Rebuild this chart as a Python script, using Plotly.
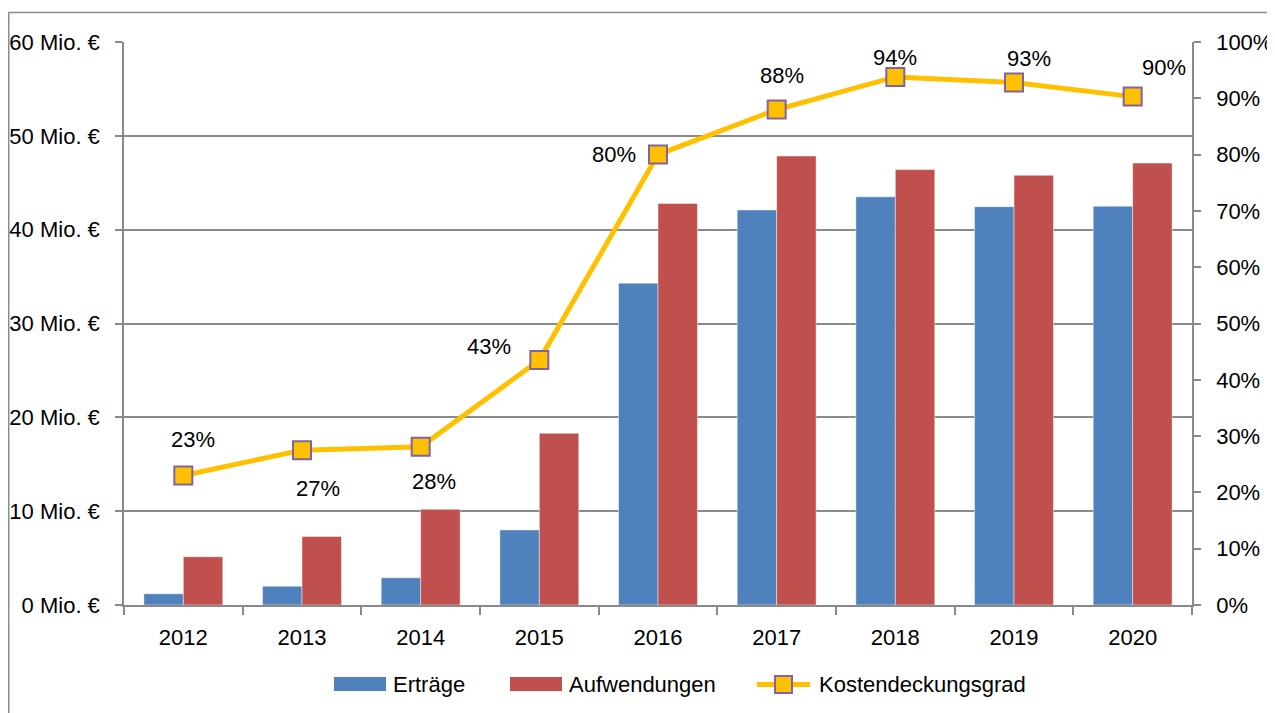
import plotly.graph_objects as go

# ---------------- data ----------------
years = ["2012", "2013", "2014", "2015", "2016", "2017", "2018", "2019", "2020"]
ertraege = [1.2, 2.0, 2.9, 8.0, 34.3, 42.1, 43.5, 42.45, 42.5]          # Mio. €
aufwendungen = [5.15, 7.3, 10.2, 18.3, 42.8, 47.85, 46.4, 45.8, 47.1]   # Mio. €
kostendeckung = [23.0, 27.5, 28.1, 43.5, 80.0, 88.0, 93.8, 92.8, 90.3]  # %
kostendeckung_labels = ["23%", "27%", "28%", "43%", "80%", "88%", "94%", "93%", "90%"]

y_tick_vals = [0, 10, 20, 30, 40, 50, 60]
y_tick_text = [f"{v} Mio. €" for v in y_tick_vals]
y2_tick_vals = [0, 10, 20, 30, 40, 50, 60, 70, 80, 90, 100]
y2_tick_text = [f"{v}%" for v in y2_tick_vals]

series_names = ["Erträge", "Aufwendungen", "Kostendeckungsgrad"]

# ---------------- style ----------------
OFF = 8                      # page body margin
W, H = 1275 - OFF, 713 - OFF
# plot area in page pixels
PL, PR, PT, PB = 124, 1192, 42, 605
L, R, T, B = PL - OFF, PR - OFF, PT - OFF, PB - OFF
BLUE = "#4F81BD"
RED = "#C0504D"
GOLD = "#FFC000"
PURPLE = "#8064A2"
GRID = "#8A8A8A"
FONT = "Liberation Sans, Arial, sans-serif"
FS = 22

def px(x):  # page pixel -> paper
    return (x - PL) / (PR - PL)

def py(y):
    return (PB - y) / (PB - PT)

# label offsets (pixels) relative to markers
label_shift = [(10, -36), (16, 38), (13, 35), (-50, -14), (-44, 0),
               (5, -34), (0, -19), (15, -24), (31, -29)]

fig = go.Figure()
fig.add_trace(go.Bar(x=years, y=ertraege, name=series_names[0],
                     marker=dict(color=BLUE, line=dict(color="rgba(255,255,255,0.45)", width=1)),
                     showlegend=False))
fig.add_trace(go.Bar(x=years, y=aufwendungen, name=series_names[1],
                     marker=dict(color=RED, line=dict(color="rgba(255,255,255,0.45)", width=1)),
                     showlegend=False))
fig.add_trace(go.Scatter(x=years, y=kostendeckung, name=series_names[2], yaxis="y2",
                         mode="lines+markers",
                         line=dict(color=GOLD, width=5),
                         marker=dict(symbol="square", size=18, color=GOLD,
                                     line=dict(color=PURPLE, width=2)),
                         showlegend=False))

annotations = []
for i, (v, lab, (dx, dy)) in enumerate(zip(kostendeckung, kostendeckung_labels, label_shift)):
    annotations.append(dict(x=i, y=v, xref="x", yref="y2", text=lab, showarrow=False,
                            xanchor="center", yanchor="middle",
                            xshift=dx, yshift=-dy, font=dict(family=FONT, size=FS, color="black")))

# custom legend + outer border
shapes = [
    dict(type="rect", xref="paper", yref="paper", x0=px(8.75), x1=px(1300), y0=py(12.5), y1=py(740),
         line=dict(color="#8C8C8C", width=1.5), fillcolor="rgba(0,0,0,0)", layer="below"),
    dict(type="rect", xref="paper", yref="paper", x0=px(334), x1=px(386), y0=py(677), y1=py(691),
         line=dict(width=0), fillcolor=BLUE),
    dict(type="rect", xref="paper", yref="paper", x0=px(510), x1=px(562), y0=py(677), y1=py(691),
         line=dict(width=0), fillcolor=RED),
    dict(type="line", xref="paper", yref="paper", x0=px(757), x1=px(810), y0=py(684.5), y1=py(684.5),
         line=dict(color=GOLD, width=5)),
    dict(type="rect", xref="paper", yref="paper", x0=px(775), x1=px(792), y0=py(676), y1=py(693),
         line=dict(color=PURPLE, width=2), fillcolor=GOLD),
]
for name, xl in zip(series_names, [391, 567, 817]):
    annotations.append(dict(x=px(xl), y=py(684.5), xref="paper", yref="paper", text=name,
                            showarrow=False, xanchor="left", yanchor="middle",
                            font=dict(family=FONT, size=FS, color="black")))

fig.update_layout(
    template="none",
    width=W, height=H,
    margin=dict(l=L, r=W - R, t=T, b=H - B, pad=0),
    paper_bgcolor="white", plot_bgcolor="white",
    barmode="group", bargap=0.335, bargroupgap=0,
    font=dict(family=FONT, size=FS, color="black"),
    xaxis=dict(type="category", range=[-0.5, 8.5], tickson="boundaries", automargin=False,
               ticks="outside", ticklen=8, tickwidth=1.5, tickcolor=GRID,
               showline=True, linecolor=GRID, linewidth=1.5, showgrid=False, zeroline=False,
               ticklabelstandoff=12, tickfont=dict(family=FONT, size=FS, color="black")),
    yaxis=dict(range=[0, 60], tickvals=y_tick_vals, ticktext=y_tick_text, automargin=False,
               ticks="outside", ticklen=7, tickwidth=1.5, tickcolor=GRID,
               showline=True, linecolor=GRID, linewidth=1.5,
               showgrid=True, gridcolor=GRID, gridwidth=1.5, zeroline=False,
               ticklabelstandoff=11, tickfont=dict(family=FONT, size=FS, color="black")),
    yaxis2=dict(range=[0, 100], tickvals=y2_tick_vals, ticktext=y2_tick_text, automargin=False,
                overlaying="y", side="right",
                ticks="outside", ticklen=7, tickwidth=1.5, tickcolor=GRID,
                showline=True, linecolor=GRID, linewidth=1.5,
                showgrid=False, zeroline=False,
                ticklabelstandoff=11, tickfont=dict(family=FONT, size=FS, color="black")),
    shapes=shapes,
    annotations=annotations,
    showlegend=False,
)

fig.write_html("out.html")
